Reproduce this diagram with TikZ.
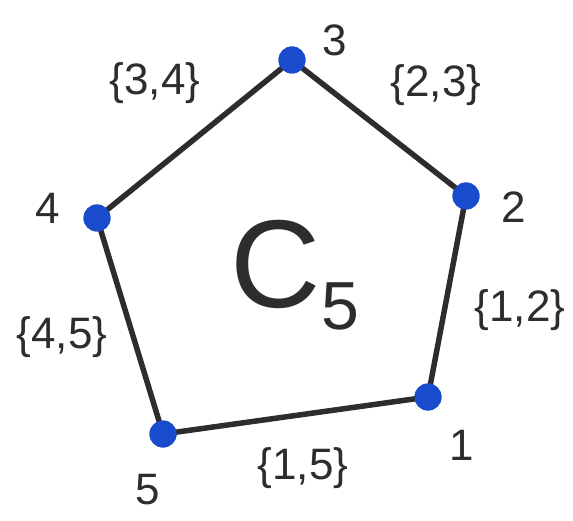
\documentclass[tikz,border=0pt]{standalone}
\usepackage{fontspec}
\setmainfont{Liberation Sans}
\definecolor{dotblue}{RGB}{25,75,205}
\definecolor{edgegray}{RGB}{45,45,45}
\begin{document}
\begin{tikzpicture}[x=1pt,y=1pt,
  vtx/.style={circle,fill=dotblue,inner sep=0pt,minimum size=27pt},
  edge/.style={draw=edgegray,line width=5.5pt,line cap=round},
  num/.style={font=\fontsize{44}{44}\selectfont,text=edgegray},
  elab/.style={font=\fontsize{44}{44}\selectfont,text=edgegray,inner sep=1pt}]
\useasboundingbox (0,0) rectangle (573,520);
\node[vtx] (v3) at (292,460) {};
\node[vtx] (v2) at (466,324) {};
\node[vtx] (v1) at (428,123) {};
\node[vtx] (v5) at (163,86) {};
\node[vtx] (v4) at (97,302) {};
\draw[edge] (v3) -- (v2);
\draw[edge] (v2) -- (v1);
\draw[edge] (v1) -- (v5);
\draw[edge] (v5) -- (v4);
\draw[edge] (v4) -- (v3);
\node[vtx] at (v3) {};
\node[vtx] at (v2) {};
\node[vtx] at (v1) {};
\node[vtx] at (v5) {};
\node[vtx] at (v4) {};
\node[num] (l3) at (335,480) {3};
\node[num] (l2) at (514,313) {2};
\node[num] (l1) at (462,75) {1};
\node[num] (l5) at (148,30) {5};
\node[num] (l4) at (48,312) {4};
\node[elab] (e34) at (155,437) {\{3,4\}};
\node[elab] (e23) at (436,435) {\{2,3\}};
\node[elab] (e12) at (520,210) {\{1,2\}};
\node[elab] (e45) at (62,183) {\{4,5\}};
\node[elab] (e15) at (303,52) {\{1,5\}};
\node[font=\fontsize{125}{125}\selectfont,text=edgegray] (c5) at (295,245) {C\raisebox{-22pt}{\fontsize{68}{68}\selectfont 5}};
\end{tikzpicture}
\end{document}
